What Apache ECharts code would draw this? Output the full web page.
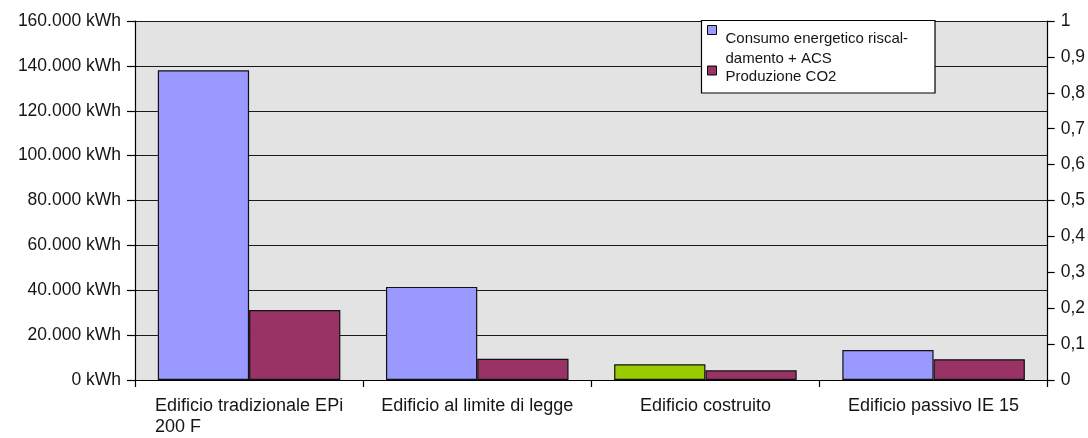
<!DOCTYPE html>
<html>
<head>
<meta charset="utf-8">
<script src="https://cdn.jsdelivr.net/npm/echarts@6/dist/echarts.min.js"></script>
<style>
  html, body { margin: 0; padding: 0; background: #ffffff; }
  #chart { width: 1088px; height: 438px; }
</style>
</head>
<body>
<div id="chart"></div>
<script>
// ---- data ----
const categories = [
  'Edificio tradizionale EPi\n200 F',
  'Edificio al limite di legge',
  'Edificio costruito',
  'Edificio passivo IE 15'
];
const seriesNames = ['Consumo energetico riscal-damento + ACS', 'Produzione CO2'];
const legendLines = [['Consumo energetico riscal-', 'damento + ACS'], ['Produzione CO2']];
const consumoValues = [138000, 41500, 7000, 13400];
const co2Values = [0.195, 0.059, 0.027, 0.058];
const leftTickLabels = ['0 kWh', '20.000 kWh', '40.000 kWh', '60.000 kWh', '80.000 kWh',
  '100.000 kWh', '120.000 kWh', '140.000 kWh', '160.000 kWh'];
const rightTickLabels = ['0', '0,1', '0,2', '0,3', '0,4', '0,5', '0,6', '0,7', '0,8', '0,9', '1'];

// ---- styling ----
const FONT = '"Liberation Sans", Arial, sans-serif';
const TEXT = '#151515';
const BLUE = '#9999ff', MAROON = '#993366', GREEN = '#99cc00';
const highlightIndex = 2; // "Edificio costruito" drawn in green

const chart = echarts.init(document.getElementById('chart'), null, { renderer: 'canvas' });

function legendItem(idx, spacer, top) {
  return {
    data: [seriesNames[idx]],
    left: 707, top: top, padding: 0,
    orient: 'vertical',
    itemWidth: 9, itemHeight: 9,
    icon: 'rect',
    itemStyle: { borderColor: '#000', borderWidth: 1 },
    formatter: () => '{s| }\n' + legendLines[idx].map(s => '{a|' + s + '}').join('\n'),
    textStyle: {
      fontFamily: FONT, fontSize: 15, color: TEXT, padding: [0, 0, 0, 4],
      rich: {
        s: { fontSize: 1, lineHeight: spacer },
        a: { fontFamily: FONT, fontSize: 15, color: TEXT, lineHeight: 20 }
      }
    },
    selectedMode: false, z: 5
  };
}

const option = {
  animation: false,
  backgroundColor: '#ffffff',
  textStyle: { fontFamily: FONT },
  grid: {
    left: 135, right: 38, top: 21, bottom: 55,
    show: true, backgroundColor: '#e3e3e3', borderWidth: 0
  },
  legend: [
    legendItem(0, 37, 9.5),
    legendItem(1, 13.4, 60)
  ],
  graphic: [{
    type: 'rect',
    z: 3,
    shape: { x: 701.5, y: 20.5, width: 233.5, height: 72.5 },
    style: { fill: '#ffffff', stroke: '#000000', lineWidth: 1.2 }
  }],
  xAxis: {
    type: 'category',
    data: categories,
    boundaryGap: true,
    axisLine: { show: true, lineStyle: { color: '#000', width: 1.2 } },
    axisTick: { show: true, length: 7, alignWithLabel: false, lineStyle: { color: '#000', width: 1.2 } },
    axisLabel: {
      interval: 0,
      margin: 15,
      color: TEXT,
      fontFamily: FONT,
      fontSize: 18,
      lineHeight: 21.5,
      formatter: (v, i) => i === 0
        ? v.split('\n').map(s => '{l|' + s + '}').join('\n')
        : v,
      rich: {
        l: { align: 'left', fontFamily: FONT, fontSize: 18, lineHeight: 21.5, color: TEXT }
      }
    },
    splitLine: { show: false }
  },
  yAxis: [
    {
      type: 'value',
      min: 0, max: 160000, interval: 20000,
      position: 'left',
      axisLine: { show: true, lineStyle: { color: '#000', width: 1.2 } },
      axisTick: { show: true, length: 8, inside: false, lineStyle: { color: '#000', width: 1.2 } },
      axisLabel: {
        margin: 14, color: TEXT, fontFamily: FONT, fontSize: 17.5,
        formatter: v => leftTickLabels[Math.round(v / 20000)]
      },
      splitLine: { show: true, lineStyle: { color: '#1a1a1a', width: 1.2 } }
    },
    {
      type: 'value',
      min: 0, max: 1, interval: 0.1,
      position: 'right',
      axisLine: { show: true, lineStyle: { color: '#000', width: 1.2 } },
      axisTick: { show: true, length: 7, inside: false, lineStyle: { color: '#000', width: 1.2 } },
      axisLabel: {
        margin: 13, color: TEXT, fontFamily: FONT, fontSize: 17.5,
        formatter: v => rightTickLabels[Math.round(v * 10)]
      },
      splitLine: { show: false }
    }
  ],
  series: [
    {
      name: seriesNames[0],
      type: 'bar',
      yAxisIndex: 0,
      barWidth: '40%',
      barGap: '0%',
      itemStyle: { color: BLUE, borderColor: '#111', borderWidth: 1.2 },
      data: consumoValues.map((v, i) => i === highlightIndex
        ? { value: v, itemStyle: { color: GREEN } }
        : v)
    },
    {
      name: seriesNames[1],
      type: 'bar',
      yAxisIndex: 1,
      barWidth: '40%',
      barGap: '0%',
      itemStyle: { color: MAROON, borderColor: '#111', borderWidth: 1.2 },
      data: co2Values
    }
  ]
};

chart.setOption(option);
</script>
</body>
</html>
